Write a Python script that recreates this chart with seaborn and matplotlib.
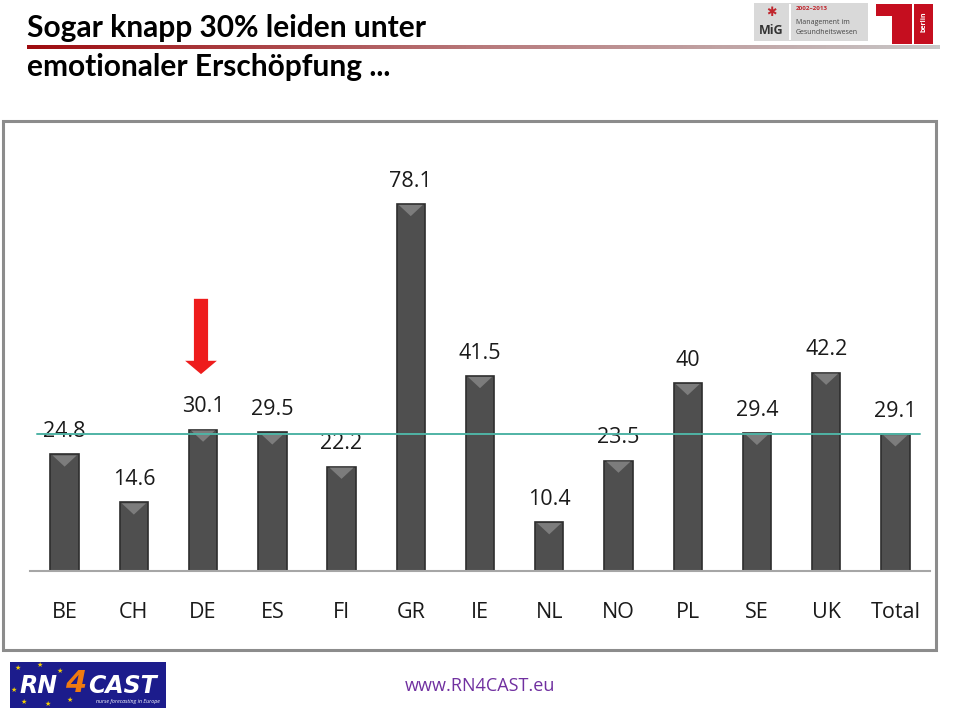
import matplotlib
matplotlib.use("Agg")
import matplotlib.pyplot as plt
import seaborn as sns
import numpy as np
import pandas as pd
from matplotlib.patches import Rectangle
from matplotlib.colors import LinearSegmentedColormap

countries = ["BE", "CH", "DE", "ES", "FI", "GR", "IE", "NL", "NO", "PL", "SE", "UK", "Total"]
values = [24.8, 14.6, 30.1, 29.5, 22.2, 78.1, 41.5, 10.4, 23.5, 40, 29.4, 42.2, 29.1]
value_labels = ["24.8", "14.6", "30.1", "29.5", "22.2", "78.1", "41.5", "10.4", "23.5", "40", "29.4", "42.2", "29.1"]
reference_value = 29.1
highlight = "DE"

sns.set_theme(style="white")
plt.rcParams['font.family'] = ['Open Sans', 'DejaVu Sans']

W, H = 960, 709
fig = plt.figure(figsize=(W / 100, H / 100), dpi=100)

def fx(px):
    return px / W

def fy(py):
    return 1 - py / H

# chart frame
frame = Rectangle((fx(3), fy(650)), fx(936) - fx(3), fy(121) - fy(650),
                  transform=fig.transFigure, fill=False, edgecolor="#8c8c8c", lw=2.2)
fig.patches.append(frame)

# axes
ax = fig.add_axes([fx(30), fy(571), fx(930) - fx(30), fy(148) - fy(571)])
df = pd.DataFrame({"country": countries, "value": values})
sns.barplot(data=df, x="country", y="value", color="#4f4f4f", width=0.41,
            edgecolor="#2e2e2e", linewidth=1.2, saturation=1, ax=ax)
ax.set_xlim(-0.5, 12.5)
ax.set_ylim(0, 90)
ax.set_xlabel("")
ax.set_ylabel("")
ax.set_yticks([])
for s in ["top", "left", "right"]:
    ax.spines[s].set_visible(False)
ax.spines["bottom"].set_color("#a6a6a6")
ax.spines["bottom"].set_linewidth(1.5)
ax.tick_params(axis="x", length=0, pad=22, labelsize=15.5, labelcolor="#1a1a1a")

# bevel highlight on bar tops
for bar in ax.patches:
    x0 = bar.get_x(); w = bar.get_width(); h = bar.get_height()
    tri = plt.Polygon([[x0 + 0.03, h - 0.2], [x0 + w - 0.03, h - 0.2], [x0 + w / 2, h - 2.6]],
                      closed=True, facecolor="#7c7c7c", edgecolor="none", zorder=3)
    ax.add_patch(tri)

for i, (v, lab) in enumerate(zip(values, value_labels)):
    ax.text(i, v + 2.6, lab, ha="center", va="bottom", fontsize=15.5, color="#1a1a1a")

ax.plot([-0.4, 12.35], [reference_value, reference_value], color="#4fb3a5", lw=1.4, zorder=4)

# red arrow above highlighted bar
hi = countries.index(highlight)
ax.annotate("", xy=(hi - 0.03, values[hi] + 11.2), xytext=(hi - 0.03, values[hi] + 28.4),
            arrowprops=dict(arrowstyle="simple,head_length=0.8,head_width=1.9,tail_width=0.85",
                            color="#ee1c1c", lw=0))

# title
fig.text(fx(27), fy(28), "Sogar knapp 30% leiden unter", fontsize=21.5, fontweight="bold",
         family=["Lato", "DejaVu Sans"], ha="left", va="center", color="#000000")
fig.text(fx(27), fy(67), "emotionaler Erschöpfung ...", fontsize=21.5, fontweight="bold",
         family=["Lato", "DejaVu Sans"], ha="left", va="center", color="#000000")

# gradient underline
gax = fig.add_axes([fx(27), fy(49), fx(940) - fx(27), fy(45) - fy(49)])
grad = np.linspace(0, 1, 256).reshape(1, -1)
cmap = LinearSegmentedColormap.from_list("g", ["#9e0b0f", "#b87a7c", "#c8c8c8"])
gax.imshow(grad, aspect="auto", cmap=cmap)
gax.axis("off")

# MiG logo
fig.patches.append(Rectangle((fx(754), fy(41)), fx(868) - fx(754), fy(3) - fy(41),
                             transform=fig.transFigure, facecolor="#d9d9d9", edgecolor="none"))
fig.patches.append(Rectangle((fx(789), fy(40)), fx(791) - fx(789), fy(4) - fy(40),
                             transform=fig.transFigure, facecolor="#ffffff", edgecolor="none"))
fig.text(fx(771), fy(31), "MiG", fontsize=9, fontweight="bold", color="#333333", ha="center", va="center")
fig.text(fx(771), fy(13), "✱", fontsize=9, color="#c0262d", ha="center", va="center", family=["DejaVu Sans"])
fig.text(fx(796), fy(9), "2002–2013", fontsize=4.5, fontweight="bold", color="#c0262d", ha="left", va="center")
fig.text(fx(796), fy(23), "Management im", fontsize=5, color="#444444", ha="left", va="center")
fig.text(fx(796), fy(33), "Gesundheitswesen", fontsize=5, color="#444444", ha="left", va="center")

# TU logo
fig.patches.append(Rectangle((fx(876), fy(16)), fx(912) - fx(876), fy(4) - fy(16),
                             transform=fig.transFigure, facecolor="#c50e1f", edgecolor="none"))
fig.patches.append(Rectangle((fx(892), fy(44)), fx(912) - fx(892), fy(16) - fy(44),
                             transform=fig.transFigure, facecolor="#c50e1f", edgecolor="none"))
fig.patches.append(Rectangle((fx(914), fy(44)), fx(933) - fx(914), fy(4) - fy(44),
                             transform=fig.transFigure, facecolor="#c50e1f", edgecolor="none"))
fig.text(fx(924), fy(22), "berlin", fontsize=5, fontweight="bold", color="white", rotation=90,
         ha="center", va="center")

# RN4CAST logo
fig.patches.append(Rectangle((fx(10), fy(708)), fx(166) - fx(10), fy(662) - fy(708),
                             transform=fig.transFigure, facecolor="#1c1c8c", edgecolor="none"))
fig.text(fx(20), fy(686), "RN", fontsize=17, fontweight="bold", fontstyle="italic", color="white",
         ha="left", va="center", family=["DejaVu Sans"])
fig.text(fx(76), fy(684), "4", fontsize=22, fontweight="bold", fontstyle="italic", color="#f07a10",
         ha="center", va="center", family=["DejaVu Sans"])
fig.text(fx(88), fy(686), "CAST", fontsize=17, fontweight="bold", fontstyle="italic", color="white",
         ha="left", va="center", family=["DejaVu Sans"])
fig.text(fx(160), fy(702), "nurse forecasting in Europe", fontsize=3.8, fontstyle="italic", color="white",
         ha="right", va="center")
for sx, sy in [(18, 668), (40, 665), (60, 671), (14, 690), (24, 702), (48, 704), (70, 700)]:
    fig.text(fx(sx), fy(sy), "★", fontsize=5, color="#f5d000", ha="center", va="center",
             family=["DejaVu Sans"])

# URL
fig.text(fx(480), fy(686), "www.RN4CAST.eu", fontsize=13, color="#7030a0", ha="center", va="center")

fig.savefig("out.png", dpi=100)
